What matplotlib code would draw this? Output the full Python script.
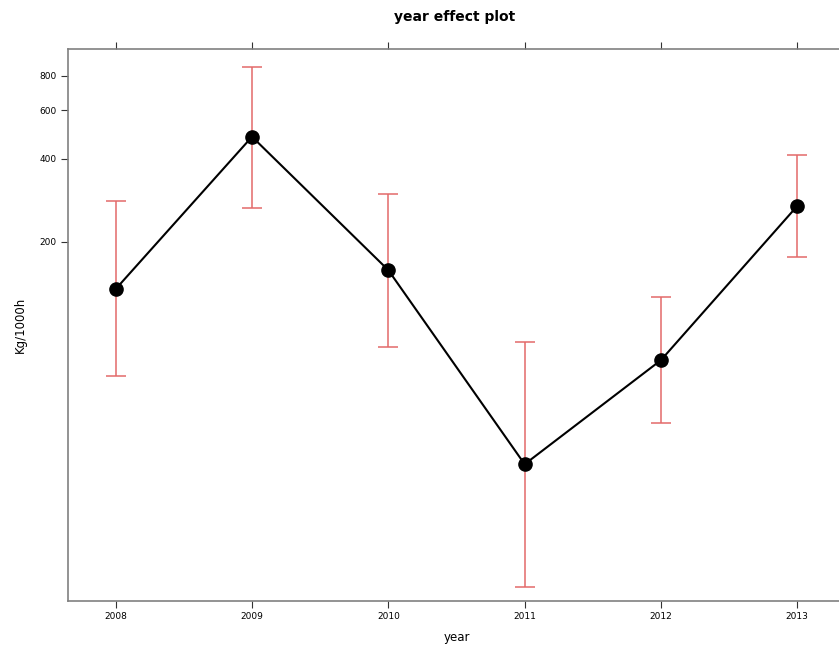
import matplotlib
matplotlib.use("Agg")
import matplotlib.pyplot as plt
from matplotlib.ticker import NullLocator, FixedLocator, FixedFormatter

# effect estimates (log scale)
years = [2008, 2009, 2010, 2011, 2012, 2013]
fit = [135, 481, 158, 31.3, 74.6, 270]
upper = [282, 862, 298, 86.8, 126, 414]
lower = [65.3, 266, 83.2, 11.2, 44.1, 176]
ytick_vals = [200, 400, 600, 800]

fig = plt.figure(figsize=(8.39, 6.51), dpi=100)
ax = fig.add_axes([68/839, 50/651, 777/839, 552/651])

err_lo = [f - l for f, l in zip(fit, lower)]
err_hi = [u - f for f, u in zip(fit, upper)]
ax.errorbar(years, fit, yerr=[err_lo, err_hi], fmt='none', ecolor='#e36a6a',
            elinewidth=1.1, capsize=7.2, capthick=1.1, zorder=2)
ax.plot(years, fit, color='black', lw=1.5, zorder=3)
ax.plot(years, fit, 'o', color='black', ms=9.5, zorder=4)

ax.set_yscale('log')
ax.set_ylim(10, 1000)
ax.set_xlim(2007.65, 2013.35)
ax.yaxis.set_major_locator(FixedLocator(ytick_vals))
ax.yaxis.set_major_formatter(FixedFormatter([str(v) for v in ytick_vals]))
ax.yaxis.set_minor_locator(NullLocator())
ax.set_xticks(years)
ax.set_xticklabels([str(y) for y in years])

for s in ax.spines.values():
    s.set_color('#808080')
    s.set_linewidth(1.2)
ax.spines['right'].set_visible(False)  # cut off in the reference
ax.tick_params(axis='both', direction='out', length=5, width=0.8, color='#333333',
               labelsize=6.5, pad=3)
ax.tick_params(axis='x', top=True, labeltop=False)

ax.set_xlabel('year', fontsize=8.5, labelpad=7)
ax.set_ylabel('Kg/1000h', fontsize=8.5, labelpad=9)
fig.text(455/839, 1 - 17/651, 'year effect plot', ha='center', va='center',
         fontsize=10, fontweight='bold')

fig.savefig('out.png', dpi=100)
